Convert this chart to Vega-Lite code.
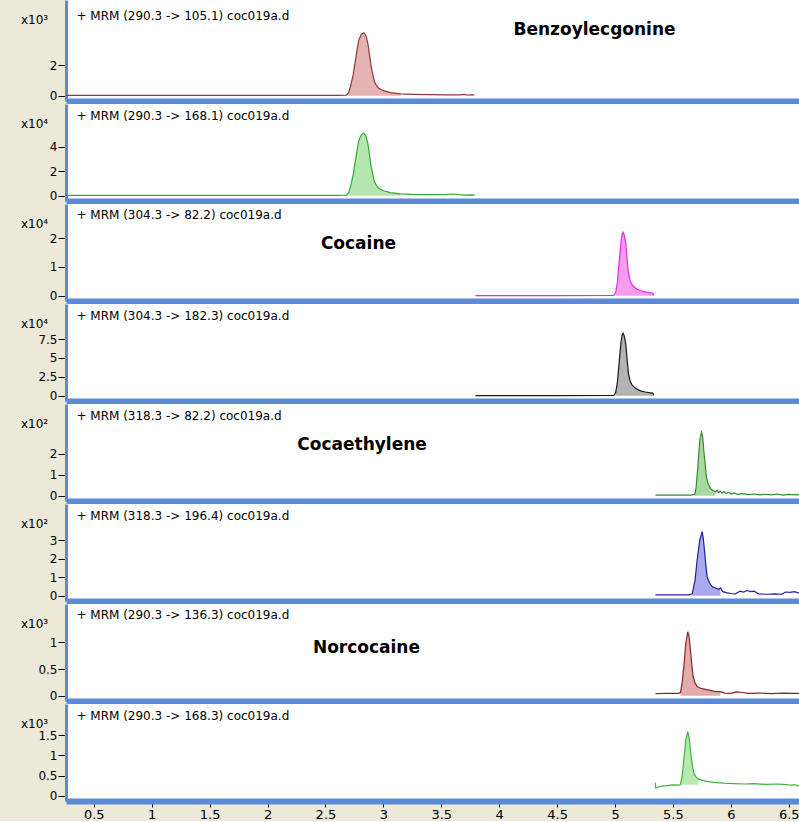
{
  "$schema": "https://vega.github.io/schema/vega-lite/v6.json",
  "background": "#ECE9D8",
  "padding": {"left": 20, "top": 0, "right": 0, "bottom": 0},
  "bounds": "flush",
  "spacing": 3,
  "datasets": {
    "trace": [
      {"p":1,"t":0.26,"v":0.02},{"p":1,"t":1.5,"v":0.02},{"p":1,"t":2.6,"v":0.02},{"p":1,"t":2.68,"v":0.04},{"p":1,"t":2.7,"v":0.2},{"p":1,"t":2.716,"v":0.6},{"p":1,"t":2.74,"v":1.4},{"p":1,"t":2.759,"v":2.35},{"p":1,"t":2.775,"v":3.1},{"p":1,"t":2.788,"v":3.66},{"p":1,"t":2.81,"v":4.05},{"p":1,"t":2.831,"v":4.14},{"p":1,"t":2.85,"v":3.95},{"p":1,"t":2.866,"v":3.45},{"p":1,"t":2.88,"v":2.7},{"p":1,"t":2.895,"v":1.9},{"p":1,"t":2.91,"v":1.35},{"p":1,"t":2.923,"v":0.92},{"p":1,"t":2.94,"v":0.68},{"p":1,"t":2.96,"v":0.49},{"p":1,"t":3.0,"v":0.33},{"p":1,"t":3.061,"v":0.2},{"p":1,"t":3.148,"v":0.12},{"p":1,"t":3.25,"v":0.09},{"p":1,"t":3.4,"v":0.07},{"p":1,"t":3.55,"v":0.06},{"p":1,"t":3.66,"v":0.05},{"p":1,"t":3.7,"v":0.09},{"p":1,"t":3.73,"v":0.03},{"p":1,"t":3.76,"v":0.07},{"p":1,"t":3.785,"v":0.04},
      {"p":2,"t":0.26,"v":0.03},{"p":2,"t":1.5,"v":0.03},{"p":2,"t":2.6,"v":0.03},{"p":2,"t":2.68,"v":0.05},{"p":2,"t":2.7,"v":0.25},{"p":2,"t":2.716,"v":0.74},{"p":2,"t":2.74,"v":1.72},{"p":2,"t":2.759,"v":2.9},{"p":2,"t":2.775,"v":3.82},{"p":2,"t":2.788,"v":4.5},{"p":2,"t":2.81,"v":4.99},{"p":2,"t":2.831,"v":5.1},{"p":2,"t":2.85,"v":4.87},{"p":2,"t":2.866,"v":4.25},{"p":2,"t":2.88,"v":3.33},{"p":2,"t":2.895,"v":2.34},{"p":2,"t":2.91,"v":1.66},{"p":2,"t":2.923,"v":1.13},{"p":2,"t":2.94,"v":0.84},{"p":2,"t":2.96,"v":0.6},{"p":2,"t":3.0,"v":0.4},{"p":2,"t":3.061,"v":0.25},{"p":2,"t":3.148,"v":0.15},{"p":2,"t":3.25,"v":0.11},{"p":2,"t":3.4,"v":0.09},{"p":2,"t":3.55,"v":0.1},{"p":2,"t":3.6,"v":0.14},{"p":2,"t":3.65,"v":0.08},{"p":2,"t":3.7,"v":0.05},{"p":2,"t":3.76,"v":0.06},{"p":2,"t":3.79,"v":0.04},
      {"p":3,"t":3.795,"v":0.005},{"p":3,"t":4.5,"v":0.005},{"p":3,"t":4.99,"v":0.01},{"p":3,"t":5.005,"v":0.1},{"p":3,"t":5.02,"v":0.45},{"p":3,"t":5.032,"v":1.0},{"p":3,"t":5.045,"v":1.6},{"p":3,"t":5.053,"v":1.93},{"p":3,"t":5.062,"v":2.15},{"p":3,"t":5.07,"v":2.2},{"p":3,"t":5.08,"v":2.1},{"p":3,"t":5.093,"v":1.82},{"p":3,"t":5.105,"v":1.25},{"p":3,"t":5.116,"v":0.78},{"p":3,"t":5.13,"v":0.52},{"p":3,"t":5.148,"v":0.37},{"p":3,"t":5.18,"v":0.25},{"p":3,"t":5.22,"v":0.17},{"p":3,"t":5.26,"v":0.13},{"p":3,"t":5.306,"v":0.1},{"p":3,"t":5.325,"v":0.09},{"p":3,"t":5.335,"v":0.02},
      {"p":4,"t":3.795,"v":0.02},{"p":4,"t":4.5,"v":0.02},{"p":4,"t":4.99,"v":0.04},{"p":4,"t":5.005,"v":0.38},{"p":4,"t":5.02,"v":1.69},{"p":4,"t":5.032,"v":3.76},{"p":4,"t":5.045,"v":6.0},{"p":4,"t":5.053,"v":7.25},{"p":4,"t":5.062,"v":8.07},{"p":4,"t":5.07,"v":8.26},{"p":4,"t":5.08,"v":7.9},{"p":4,"t":5.093,"v":6.83},{"p":4,"t":5.105,"v":4.7},{"p":4,"t":5.116,"v":2.93},{"p":4,"t":5.13,"v":1.95},{"p":4,"t":5.148,"v":1.39},{"p":4,"t":5.18,"v":0.94},{"p":4,"t":5.22,"v":0.64},{"p":4,"t":5.26,"v":0.49},{"p":4,"t":5.306,"v":0.38},{"p":4,"t":5.325,"v":0.34},{"p":4,"t":5.335,"v":0.08},
      {"p":5,"t":5.349,"v":0.03},{"p":5,"t":5.5,"v":0.03},{"p":5,"t":5.65,"v":0.03},{"p":5,"t":5.689,"v":0.06},{"p":5,"t":5.7,"v":0.4},{"p":5,"t":5.715,"v":1.38},{"p":5,"t":5.732,"v":2.65},{"p":5,"t":5.746,"v":3.02},{"p":5,"t":5.756,"v":2.85},{"p":5,"t":5.766,"v":2.18},{"p":5,"t":5.778,"v":1.5},{"p":5,"t":5.789,"v":0.9},{"p":5,"t":5.805,"v":0.55},{"p":5,"t":5.824,"v":0.35},{"p":5,"t":5.845,"v":0.25},{"p":5,"t":5.867,"v":0.19},{"p":5,"t":5.88,"v":0.26},{"p":5,"t":5.895,"v":0.15},{"p":5,"t":5.91,"v":0.22},{"p":5,"t":5.925,"v":0.12},{"p":5,"t":5.94,"v":0.2},{"p":5,"t":5.96,"v":0.1},{"p":5,"t":5.98,"v":0.17},{"p":5,"t":6.0,"v":0.08},{"p":5,"t":6.03,"v":0.13},{"p":5,"t":6.06,"v":0.06},{"p":5,"t":6.1,"v":0.1},{"p":5,"t":6.15,"v":0.05},{"p":5,"t":6.2,"v":0.08},{"p":5,"t":6.25,"v":0.04},{"p":5,"t":6.3,"v":0.07},{"p":5,"t":6.35,"v":0.04},{"p":5,"t":6.4,"v":0.08},{"p":5,"t":6.45,"v":0.03},{"p":5,"t":6.5,"v":0.06},{"p":5,"t":6.55,"v":0.04},{"p":5,"t":6.597,"v":0.05},
      {"p":6,"t":5.349,"v":0.05},{"p":6,"t":5.5,"v":0.05},{"p":6,"t":5.64,"v":0.05},{"p":6,"t":5.666,"v":0.1},{"p":6,"t":5.69,"v":0.8},{"p":6,"t":5.709,"v":1.93},{"p":6,"t":5.732,"v":3.0},{"p":6,"t":5.752,"v":3.46},{"p":6,"t":5.762,"v":3.1},{"p":6,"t":5.772,"v":2.47},{"p":6,"t":5.785,"v":1.6},{"p":6,"t":5.795,"v":1.03},{"p":6,"t":5.815,"v":0.7},{"p":6,"t":5.839,"v":0.49},{"p":6,"t":5.87,"v":0.4},{"p":6,"t":5.896,"v":0.35},{"p":6,"t":5.91,"v":0.42},{"p":6,"t":5.93,"v":0.22},{"p":6,"t":5.968,"v":0.15},{"p":6,"t":6.0,"v":0.12},{"p":6,"t":6.04,"v":0.1},{"p":6,"t":6.08,"v":0.25},{"p":6,"t":6.11,"v":0.2},{"p":6,"t":6.14,"v":0.28},{"p":6,"t":6.17,"v":0.22},{"p":6,"t":6.2,"v":0.25},{"p":6,"t":6.24,"v":0.1},{"p":6,"t":6.314,"v":0.08},{"p":6,"t":6.38,"v":0.1},{"p":6,"t":6.44,"v":0.08},{"p":6,"t":6.47,"v":0.2},{"p":6,"t":6.51,"v":0.18},{"p":6,"t":6.55,"v":0.22},{"p":6,"t":6.597,"v":0.12},
      {"p":7,"t":5.349,"v":0.04},{"p":7,"t":5.45,"v":0.045},{"p":7,"t":5.55,"v":0.045},{"p":7,"t":5.565,"v":0.06},{"p":7,"t":5.58,"v":0.25},{"p":7,"t":5.594,"v":0.54},{"p":7,"t":5.611,"v":0.98},{"p":7,"t":5.628,"v":1.2},{"p":7,"t":5.64,"v":1.1},{"p":7,"t":5.651,"v":0.86},{"p":7,"t":5.662,"v":0.6},{"p":7,"t":5.674,"v":0.36},{"p":7,"t":5.69,"v":0.24},{"p":7,"t":5.709,"v":0.17},{"p":7,"t":5.74,"v":0.14},{"p":7,"t":5.781,"v":0.12},{"p":7,"t":5.82,"v":0.1},{"p":7,"t":5.86,"v":0.08},{"p":7,"t":5.91,"v":0.075},{"p":7,"t":5.95,"v":0.05},{"p":7,"t":6.0,"v":0.045},{"p":7,"t":6.05,"v":0.07},{"p":7,"t":6.1,"v":0.06},{"p":7,"t":6.15,"v":0.045},{"p":7,"t":6.25,"v":0.05},{"p":7,"t":6.35,"v":0.04},{"p":7,"t":6.45,"v":0.05},{"p":7,"t":6.55,"v":0.045},{"p":7,"t":6.597,"v":0.045},
      {"p":8,"t":5.349,"v":0.32},{"p":8,"t":5.352,"v":0.19},{"p":8,"t":5.4,"v":0.24},{"p":8,"t":5.45,"v":0.25},{"p":8,"t":5.5,"v":0.27},{"p":8,"t":5.55,"v":0.26},{"p":8,"t":5.565,"v":0.28},{"p":8,"t":5.58,"v":0.5},{"p":8,"t":5.594,"v":0.89},{"p":8,"t":5.611,"v":1.38},{"p":8,"t":5.628,"v":1.59},{"p":8,"t":5.64,"v":1.45},{"p":8,"t":5.651,"v":1.13},{"p":8,"t":5.665,"v":0.8},{"p":8,"t":5.68,"v":0.56},{"p":8,"t":5.7,"v":0.46},{"p":8,"t":5.72,"v":0.41},{"p":8,"t":5.78,"v":0.36},{"p":8,"t":5.853,"v":0.33},{"p":8,"t":5.94,"v":0.31},{"p":8,"t":6.025,"v":0.3},{"p":8,"t":6.12,"v":0.29},{"p":8,"t":6.2,"v":0.3},{"p":8,"t":6.3,"v":0.28},{"p":8,"t":6.4,"v":0.29},{"p":8,"t":6.457,"v":0.28},{"p":8,"t":6.52,"v":0.26},{"p":8,"t":6.56,"v":0.27},{"p":8,"t":6.597,"v":0.22}
    ],
    "notes": [
      {"p":1,"kind":"mrm","label":"+ MRM (290.3 -> 105.1) coc019a.d","t":0.35,"v":5.276},
      {"p":2,"kind":"mrm","label":"+ MRM (290.3 -> 168.1) coc019a.d","t":0.35,"v":6.547},
      {"p":3,"kind":"mrm","label":"+ MRM (304.3 -> 82.2) coc019a.d","t":0.35,"v":2.785},
      {"p":4,"kind":"mrm","label":"+ MRM (304.3 -> 182.3) coc019a.d","t":0.35,"v":10.62},
      {"p":5,"kind":"mrm","label":"+ MRM (318.3 -> 82.2) coc019a.d","t":0.35,"v":3.819},
      {"p":6,"kind":"mrm","label":"+ MRM (318.3 -> 196.4) coc019a.d","t":0.35,"v":4.335},
      {"p":7,"kind":"mrm","label":"+ MRM (290.3 -> 136.3) coc019a.d","t":0.35,"v":1.505},
      {"p":8,"kind":"mrm","label":"+ MRM (290.3 -> 168.3) coc019a.d","t":0.35,"v":1.99},
      {"p":1,"kind":"name","label":"Benzoylecgonine","t":4.823,"v":4.32},
      {"p":3,"kind":"name","label":"Cocaine","t":2.785,"v":1.81},
      {"p":5,"kind":"name","label":"Cocaethylene","t":2.816,"v":2.41},
      {"p":7,"kind":"name","label":"Norcocaine","t":2.854,"v":0.904}
    ]
  },
  "vconcat": [
    {
      "width": 734, "height": 101,
      "data": {"name": "trace"},
      "encoding": {
        "x": {"field": "t", "type": "quantitative", "scale": {"domain": [0.26, 6.597], "nice": false, "zero": false}},
        "y": {"field": "v", "type": "quantitative", "scale": {"domain": [-0.349, 6.296], "nice": false, "zero": false}, "axis": {"title": "x10³", "values": [0, 2]}}
      },
      "layer": [
        {"transform": [{"filter": "datum.p == 1 && datum.t >= 2.68 && datum.t <= 3.148"}], "mark": {"type": "area", "color": "#E6B3B3", "opacity": 1}, "encoding": {"y2": {"datum": 0}}},
        {"transform": [{"filter": "datum.p == 1"}], "mark": {"type": "line", "color": "#8B3A3A", "strokeWidth": 1.2}, "encoding": {}},
        {"transform": [{"filter": "datum.p == 1"}, {"aggregate": [{"op": "max", "field": "v", "as": "v"}]}], "mark": {"type": "rule", "color": "#222222", "strokeWidth": 2, "xOffset": -2.5}, "encoding": {"x": {"datum": 0.26}, "y2": {"datum": 0}}},
        {"data": {"name": "notes"}, "transform": [{"filter": "datum.p == 1 && datum.kind == 'mrm'"}], "mark": {"type": "text", "align": "left", "baseline": "middle", "fontSize": 12, "color": "#000000"}, "encoding": {"text": {"field": "label"}}},
        {"data": {"name": "notes"}, "transform": [{"filter": "datum.p == 1 && datum.kind == 'name'"}], "mark": {"type": "text", "align": "center", "baseline": "middle", "fontSize": 17, "fontWeight": "bold", "color": "#000000"}, "encoding": {"text": {"field": "label"}}}
      ]
    },
    {
      "width": 734, "height": 97,
      "data": {"name": "trace"},
      "encoding": {
        "x": {"field": "t", "type": "quantitative", "scale": {"domain": [0.26, 6.597], "nice": false, "zero": false}},
        "y": {"field": "v", "type": "quantitative", "scale": {"domain": [-0.433, 7.486], "nice": false, "zero": false}, "axis": {"title": "x10⁴", "values": [0, 2, 4]}}
      },
      "layer": [
        {"transform": [{"filter": "datum.p == 2 && datum.t >= 2.68 && datum.t <= 3.148"}], "mark": {"type": "area", "color": "#B5E6B0", "opacity": 1}, "encoding": {"y2": {"datum": 0}}},
        {"transform": [{"filter": "datum.p == 2"}], "mark": {"type": "line", "color": "#33AA33", "strokeWidth": 1.2}, "encoding": {}},
        {"transform": [{"filter": "datum.p == 2"}, {"aggregate": [{"op": "max", "field": "v", "as": "v"}]}], "mark": {"type": "rule", "color": "#222222", "strokeWidth": 2, "xOffset": -2.5}, "encoding": {"x": {"datum": 0.26}, "y2": {"datum": 0}}},
        {"data": {"name": "notes"}, "transform": [{"filter": "datum.p == 2 && datum.kind == 'mrm'"}], "mark": {"type": "text", "align": "left", "baseline": "middle", "fontSize": 12, "color": "#000000"}, "encoding": {"text": {"field": "label"}}}
      ]
    },
    {
      "width": 734, "height": 97,
      "data": {"name": "trace"},
      "encoding": {
        "x": {"field": "t", "type": "quantitative", "scale": {"domain": [0.26, 6.597], "nice": false, "zero": false}},
        "y": {"field": "v", "type": "quantitative", "scale": {"domain": [-0.184, 3.184], "nice": false, "zero": false}, "axis": {"title": "x10⁴", "values": [0, 1, 2]}}
      },
      "layer": [
        {"transform": [{"filter": "datum.p == 3 && datum.t >= 4.995 && datum.t <= 5.335"}], "mark": {"type": "area", "color": "#F59CF0", "opacity": 1}, "encoding": {"y2": {"datum": 0}}},
        {"transform": [{"filter": "datum.p == 3"}], "mark": {"type": "line", "color": "#E02FD8", "strokeWidth": 1.2}, "encoding": {}},
        {"transform": [{"filter": "datum.p == 3"}, {"aggregate": [{"op": "max", "field": "v", "as": "v"}]}], "mark": {"type": "rule", "color": "#222222", "strokeWidth": 2, "xOffset": -2.5}, "encoding": {"x": {"datum": 0.26}, "y2": {"datum": 0}}},
        {"data": {"name": "notes"}, "transform": [{"filter": "datum.p == 3 && datum.kind == 'mrm'"}], "mark": {"type": "text", "align": "left", "baseline": "middle", "fontSize": 12, "color": "#000000"}, "encoding": {"text": {"field": "label"}}},
        {"data": {"name": "notes"}, "transform": [{"filter": "datum.p == 3 && datum.kind == 'name'"}], "mark": {"type": "text", "align": "center", "baseline": "middle", "fontSize": 17, "fontWeight": "bold", "color": "#000000"}, "encoding": {"text": {"field": "label"}}}
      ]
    },
    {
      "width": 734, "height": 97,
      "data": {"name": "trace"},
      "encoding": {
        "x": {"field": "t", "type": "quantitative", "scale": {"domain": [0.26, 6.597], "nice": false, "zero": false}},
        "y": {"field": "v", "type": "quantitative", "scale": {"domain": [-0.702, 12.146], "nice": false, "zero": false}, "axis": {"title": "x10⁴", "values": [0, 2.5, 5, 7.5]}}
      },
      "layer": [
        {"transform": [{"filter": "datum.p == 4 && datum.t >= 4.995 && datum.t <= 5.335"}], "mark": {"type": "area", "color": "#B3B3B3", "opacity": 1}, "encoding": {"y2": {"datum": 0}}},
        {"transform": [{"filter": "datum.p == 4"}], "mark": {"type": "line", "color": "#1A1A1A", "strokeWidth": 1.2}, "encoding": {}},
        {"transform": [{"filter": "datum.p == 4"}, {"aggregate": [{"op": "max", "field": "v", "as": "v"}]}], "mark": {"type": "rule", "color": "#222222", "strokeWidth": 2, "xOffset": -2.5}, "encoding": {"x": {"datum": 0.26}, "y2": {"datum": 0}}},
        {"data": {"name": "notes"}, "transform": [{"filter": "datum.p == 4 && datum.kind == 'mrm'"}], "mark": {"type": "text", "align": "left", "baseline": "middle", "fontSize": 12, "color": "#000000"}, "encoding": {"text": {"field": "label"}}}
      ]
    },
    {
      "width": 734, "height": 97,
      "data": {"name": "trace"},
      "encoding": {
        "x": {"field": "t", "type": "quantitative", "scale": {"domain": [0.26, 6.597], "nice": false, "zero": false}},
        "y": {"field": "v", "type": "quantitative", "scale": {"domain": [-0.252, 4.367], "nice": false, "zero": false}, "axis": {"title": "x10²", "values": [0, 1, 2]}}
      },
      "layer": [
        {"transform": [{"filter": "datum.p == 5 && datum.t >= 5.689 && datum.t <= 5.867"}], "mark": {"type": "area", "color": "#A8D9A0", "opacity": 1}, "encoding": {"y2": {"datum": 0}}},
        {"transform": [{"filter": "datum.p == 5"}], "mark": {"type": "line", "color": "#2E8B2E", "strokeWidth": 1.2}, "encoding": {}},
        {"transform": [{"filter": "datum.p == 5"}, {"aggregate": [{"op": "max", "field": "v", "as": "v"}]}], "mark": {"type": "rule", "color": "#222222", "strokeWidth": 2, "xOffset": -2.5}, "encoding": {"x": {"datum": 0.26}, "y2": {"datum": 0}}},
        {"data": {"name": "notes"}, "transform": [{"filter": "datum.p == 5 && datum.kind == 'mrm'"}], "mark": {"type": "text", "align": "left", "baseline": "middle", "fontSize": 12, "color": "#000000"}, "encoding": {"text": {"field": "label"}}},
        {"data": {"name": "notes"}, "transform": [{"filter": "datum.p == 5 && datum.kind == 'name'"}], "mark": {"type": "text", "align": "center", "baseline": "middle", "fontSize": 17, "fontWeight": "bold", "color": "#000000"}, "encoding": {"text": {"field": "label"}}}
      ]
    },
    {
      "width": 734, "height": 97,
      "data": {"name": "trace"},
      "encoding": {
        "x": {"field": "t", "type": "quantitative", "scale": {"domain": [0.26, 6.597], "nice": false, "zero": false}},
        "y": {"field": "v", "type": "quantitative", "scale": {"domain": [-0.286, 4.957], "nice": false, "zero": false}, "axis": {"title": "x10²", "values": [0, 1, 2, 3]}}
      },
      "layer": [
        {"transform": [{"filter": "datum.p == 6 && datum.t >= 5.666 && datum.t <= 5.91"}], "mark": {"type": "area", "color": "#A9A9EC", "opacity": 1}, "encoding": {"y2": {"datum": 0}}},
        {"transform": [{"filter": "datum.p == 6"}], "mark": {"type": "line", "color": "#1F1FA0", "strokeWidth": 1.2}, "encoding": {}},
        {"transform": [{"filter": "datum.p == 6"}, {"aggregate": [{"op": "max", "field": "v", "as": "v"}]}], "mark": {"type": "rule", "color": "#222222", "strokeWidth": 2, "xOffset": -2.5}, "encoding": {"x": {"datum": 0.26}, "y2": {"datum": 0}}},
        {"data": {"name": "notes"}, "transform": [{"filter": "datum.p == 6 && datum.kind == 'mrm'"}], "mark": {"type": "text", "align": "left", "baseline": "middle", "fontSize": 12, "color": "#000000"}, "encoding": {"text": {"field": "label"}}}
      ]
    },
    {
      "width": 734, "height": 97,
      "data": {"name": "trace"},
      "encoding": {
        "x": {"field": "t", "type": "quantitative", "scale": {"domain": [0.26, 6.597], "nice": false, "zero": false}},
        "y": {"field": "v", "type": "quantitative", "scale": {"domain": [-0.0994, 1.7205], "nice": false, "zero": false}, "axis": {"title": "x10³", "values": [0, 0.5, 1]}}
      },
      "layer": [
        {"transform": [{"filter": "datum.p == 7 && datum.t >= 5.565 && datum.t <= 5.91"}], "mark": {"type": "area", "color": "#E3ABAB", "opacity": 1}, "encoding": {"y2": {"datum": 0}}},
        {"transform": [{"filter": "datum.p == 7"}], "mark": {"type": "line", "color": "#8B2525", "strokeWidth": 1.2}, "encoding": {}},
        {"transform": [{"filter": "datum.p == 7"}, {"aggregate": [{"op": "max", "field": "v", "as": "v"}]}], "mark": {"type": "rule", "color": "#222222", "strokeWidth": 2, "xOffset": -2.5}, "encoding": {"x": {"datum": 0.26}, "y2": {"datum": 0}}},
        {"data": {"name": "notes"}, "transform": [{"filter": "datum.p == 7 && datum.kind == 'mrm'"}], "mark": {"type": "text", "align": "left", "baseline": "middle", "fontSize": 12, "color": "#000000"}, "encoding": {"text": {"field": "label"}}},
        {"data": {"name": "notes"}, "transform": [{"filter": "datum.p == 7 && datum.kind == 'name'"}], "mark": {"type": "text", "align": "center", "baseline": "middle", "fontSize": 17, "fontWeight": "bold", "color": "#000000"}, "encoding": {"text": {"field": "label"}}}
      ]
    },
    {
      "width": 734, "height": 97,
      "data": {"name": "trace"},
      "encoding": {
        "x": {"field": "t", "type": "quantitative", "scale": {"domain": [0.26, 6.597], "nice": false, "zero": false}, "axis": {"labels": true, "ticks": true, "values": [0.5, 1, 1.5, 2, 2.5, 3, 3.5, 4, 4.5, 5, 5.5, 6, 6.5], "labelExpr": "'' + datum.value"}},
        "y": {"field": "v", "type": "quantitative", "scale": {"domain": [-0.1315, 2.2754], "nice": false, "zero": false}, "axis": {"title": "x10³", "values": [0, 0.5, 1, 1.5]}}
      },
      "layer": [
        {"transform": [{"filter": "datum.p == 8 && datum.t >= 5.565 && datum.t <= 5.72"}], "mark": {"type": "area", "color": "#B5EBB0", "opacity": 1}, "encoding": {"y2": {"datum": 0.27}}},
        {"transform": [{"filter": "datum.p == 8"}], "mark": {"type": "line", "color": "#3CB43C", "strokeWidth": 1.2}, "encoding": {}},
        {"transform": [{"filter": "datum.p == 8"}, {"aggregate": [{"op": "max", "field": "v", "as": "v"}]}], "mark": {"type": "rule", "color": "#222222", "strokeWidth": 2, "xOffset": -2.5}, "encoding": {"x": {"datum": 0.26}, "y2": {"datum": 0}}},
        {"data": {"name": "notes"}, "transform": [{"filter": "datum.p == 8 && datum.kind == 'mrm'"}], "mark": {"type": "text", "align": "left", "baseline": "middle", "fontSize": 12, "color": "#000000"}, "encoding": {"text": {"field": "label"}}}
      ]
    }
  ],
  "config": {
    "font": "DejaVu Sans",
    "view": {"fill": "white", "stroke": null},
    "axis": {"grid": false},
    "axisX": {"domainColor": "#5B8AD6", "domainWidth": 6, "labels": false, "ticks": false, "title": null, "tickColor": "#000000", "tickSize": 6, "tickWidth": 1, "labelFontSize": 13, "labelColor": "#000000", "labelPadding": 1, "labelFlush": false, "labelOverlap": false},
    "axisY": {"domainColor": "#5B8AD6", "domainWidth": 3, "tickColor": "#000000", "tickSize": 8, "tickWidth": 1, "labelFontSize": 12, "labelColor": "#000000", "labelPadding": 1, "labelFlush": false, "labelOverlap": false, "labelExpr": "'' + datum.value", "titleAngle": 0, "titleX": -45.5, "titleY": 19, "titleAlign": "left", "titleBaseline": "middle", "titleFontSize": 12, "titleFontWeight": "normal", "titleColor": "#000000"}
  }
}
